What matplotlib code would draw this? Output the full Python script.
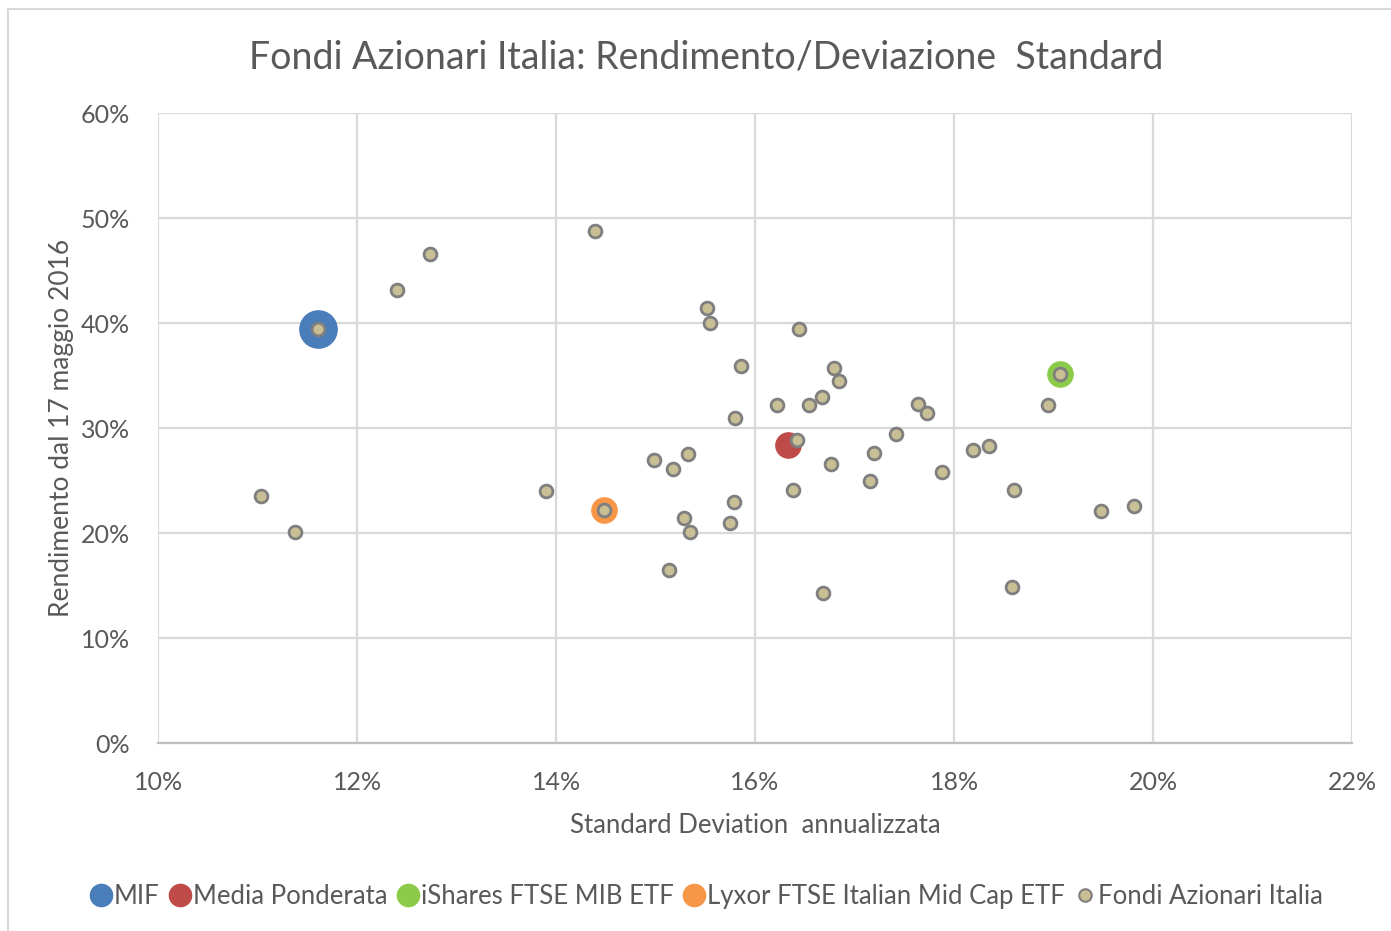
import matplotlib.pyplot as plt
from matplotlib.patches import Rectangle
from matplotlib.ticker import FuncFormatter, MultipleLocator
from matplotlib.lines import Line2D

plt.rcParams['font.family'] = ['Lato', 'DejaVu Sans']

# Fondi: deviazione standard (%) e rendimento (%)
fondi_sd = [11.03, 11.38, 11.61, 12.40, 12.73, 14.39, 13.90, 14.48, 14.98, 15.18,
            15.33, 15.29, 15.35, 15.14, 15.52, 15.55, 15.86, 15.80, 15.79, 15.75,
            16.22, 16.44, 16.42, 16.38, 16.54, 16.67, 16.79, 16.84, 16.76, 16.68,
            17.16, 17.20, 17.42, 17.64, 17.73, 17.88, 18.19, 18.35, 18.60, 18.58,
            18.94, 19.06, 19.48, 19.81]
fondi_rend = [23.5, 20.1, 39.4, 43.1, 46.6, 48.8, 24.0, 22.2, 27.0, 26.1,
              27.5, 21.4, 20.1, 16.5, 41.4, 40.0, 35.9, 31.0, 23.0, 21.0,
              32.2, 39.4, 28.9, 24.1, 32.2, 33.0, 35.7, 34.5, 26.6, 14.3,
              25.0, 27.6, 29.4, 32.3, 31.4, 25.8, 27.9, 28.3, 24.1, 14.9,
              32.2, 35.1, 22.1, 22.6]

mif_sd, mif_rend = [11.61], [39.4]
media_sd, media_rend = [16.33], [28.4]
ishares_sd, ishares_rend = [19.06], [35.1]
lyxor_sd, lyxor_rend = [14.48], [22.2]

fig = plt.figure(figsize=(13.91, 9.31), dpi=100)
ax = fig.add_axes([0.1136, 0.2019, 0.8584, 0.6767])

ax.scatter(mif_sd, mif_rend, s=720, color='#4A7EBB', zorder=3)
ax.scatter(media_sd, media_rend, s=330, color='#BE4B48', zorder=3)
ax.scatter(ishares_sd, ishares_rend, s=330, color='#8CCB4A', zorder=3)
ax.scatter(lyxor_sd, lyxor_rend, s=330, color='#F79646', zorder=3)
ax.scatter(fondi_sd, fondi_rend, s=85, color='#C9BF94', edgecolors='#7F7F7F',
           linewidths=2, zorder=4)

ax.set_xlim(10, 22)
ax.set_ylim(0, 60)
ax.xaxis.set_major_locator(MultipleLocator(2))
ax.yaxis.set_major_locator(MultipleLocator(10))
ax.xaxis.set_major_formatter(FuncFormatter(lambda v, p: f'{v:.0f}%'))
ax.yaxis.set_major_formatter(FuncFormatter(lambda v, p: f'{v:.0f}%'))

ax.grid(True, color='#D9D9D9', linewidth=1.6)
ax.set_axisbelow(True)
for s in ['top', 'right', 'left']:
    ax.spines[s].set_visible(False)
ax.spines['bottom'].set_color('#BFBFBF')
ax.spines['bottom'].set_linewidth(1.6)
ax.tick_params(axis='x', length=0, labelsize=18, colors='#595959', pad=20)
ax.tick_params(axis='y', length=0, labelsize=18, colors='#595959', pad=20)

ax.set_xlabel('Standard Deviation  annualizzata', fontsize=18.5, color='#595959', labelpad=14)
ax.set_ylabel('Rendimento dal 17 maggio 2016', fontsize=19, color='#595959', labelpad=5)
fig.text(0.508, 0.938, 'Fondi Azionari Italia: Rendimento/Deviazione  Standard',
         ha='center', va='center', fontsize=27, color='#595959')

handles = [
    Line2D([], [], marker='o', linestyle='', markersize=16, color='#4A7EBB'),
    Line2D([], [], marker='o', linestyle='', markersize=16, color='#BE4B48'),
    Line2D([], [], marker='o', linestyle='', markersize=16, color='#8CCB4A'),
    Line2D([], [], marker='o', linestyle='', markersize=16, color='#F79646'),
    Line2D([], [], marker='o', linestyle='', markersize=9, markerfacecolor='#C9BF94',
           markeredgecolor='#7F7F7F', markeredgewidth=1.5),
]
labels = ['MIF', 'Media Ponderata', 'iShares FTSE MIB ETF',
          'Lyxor FTSE Italian Mid Cap ETF', 'Fondi Azionari Italia']
leg = fig.legend(handles, labels, loc='center', bbox_to_anchor=(0.508, 0.037), ncol=5,
                 frameon=False, fontsize=18.5, handlelength=0.8, handletextpad=0.1,
                 columnspacing=0.4)
for t in leg.get_texts():
    t.set_color('#595959')

fig.patches.append(Rectangle((0.006, -0.01), 1.1, 1.0, transform=fig.transFigure,
                             fill=False, edgecolor='#D9D9D9', linewidth=1.5))

fig.savefig('out.png', dpi=100)
